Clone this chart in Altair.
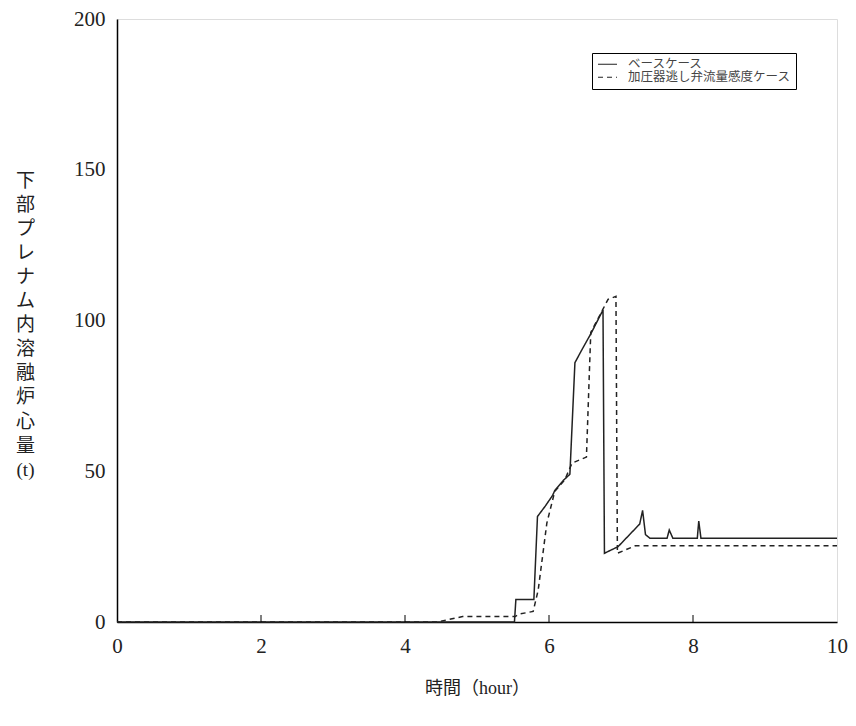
import altair as alt
import pandas as pd

cases = ["ベースケース", "加圧器逃し弁流量感度ケース"]

t_base = [0, 5.52, 5.54, 5.79, 5.84, 5.95, 6.05, 6.08, 6.20, 6.29, 6.36, 6.45, 6.59, 6.75, 6.77,
          6.96, 7.26, 7.30, 7.34, 7.40, 7.64, 7.67, 7.72, 8.06, 8.08, 8.11, 10]
v_base = [0, 0, 7.5, 7.5, 35, 38.5, 42, 43.6, 47, 49, 86, 90, 96, 103.5, 22.8,
          25, 32.5, 37, 29, 27.8, 27.8, 30.5, 27.8, 27.8, 33.5, 27.8, 27.8]

t_sens = [0, 4.45, 4.6, 4.8, 5.53, 5.58, 5.78, 5.85, 5.97, 6.08, 6.22, 6.32, 6.52, 6.58,
          6.82, 6.93, 6.95, 7.2, 10]
v_sens = [0, 0, 0.8, 1.8, 1.8, 2.6, 3.5, 10.6, 32.8, 43.3, 47.2, 52.7, 54.7, 96,
          107, 108, 22.8, 25.3, 25.3]

x_ticks = [0, 2, 4, 6, 8, 10]
y_ticks = [0, 50, 100, 150, 200]
inner_ticks = [2, 4, 6, 8]

rows = []
for i, (t, v) in enumerate(zip(t_base, v_base)):
    rows.append({"t": t, "v": v, "case": cases[0], "i": i})
for i, (t, v) in enumerate(zip(t_sens, v_sens)):
    rows.append({"t": t, "v": v, "case": cases[1], "i": i})
df = pd.DataFrame(rows)

serif = "Liberation Serif, Noto Sans CJK JP"

x_enc = alt.X("t:Q", scale=alt.Scale(domain=[0, 10], nice=False),
              axis=alt.Axis(values=x_ticks, format="d", ticks=False, grid=False, labelPadding=13,
                            labelFontSize=21, labelFont=serif, labelColor="#222",
                            title="時間（hour）", titleFont=serif, titleFontSize=18,
                            titleFontWeight="normal", titleColor="#222", titlePadding=23,
                            domainColor="black", domainWidth=1.5, labelFlush=False))
y_enc = alt.Y("v:Q", scale=alt.Scale(domain=[0, 200], nice=False),
              axis=alt.Axis(values=y_ticks, ticks=False, grid=False, labelPadding=12,
                            labelFontSize=21, labelFont=serif, labelColor="#222",
                            title=["下", "部", "プ", "レ", "ナ", "ム", "内", "溶", "融", "炉", "心", "量", "\u3000", "(t)"],
                            titleFont=serif, titleFontSize=19, titleFontWeight="normal",
                            titleColor="#222", titleAngle=0, titleAlign="center",
                            titleBaseline="top", titleX=-92, titleY=152, titleLineHeight=24.1,
                            domainColor="black", domainWidth=1.5, labelFlush=False))

lines = alt.Chart(df).mark_line(color="#222", strokeWidth=1.5).encode(
    x=x_enc,
    y=y_enc,
    strokeDash=alt.StrokeDash(
        "case:N",
        scale=alt.Scale(domain=cases, range=[[1, 0], [5, 4]]),
        legend=alt.Legend(orient="none", legendX=475, legendY=34, title=None,
                          symbolType="stroke", symbolSize=361, symbolStrokeColor="#222",
                          symbolStrokeWidth=1.2, labelFontSize=12.5, labelLimit=400,
                          labelFont="Noto Sans CJK JP", labelColor="#444",
                          padding=5, rowPadding=0, labelOffset=10, clipHeight=12.5,
                          strokeColor="black", fillColor="white"),
    ),
    order=alt.Order("i:Q"),
)

ticks = alt.Chart(pd.DataFrame({"t": inner_ticks})).mark_rule(color="black", strokeWidth=1).encode(
    x=alt.X("t:Q"),
    y=alt.value(603),
    y2=alt.value(596),
)

chart = alt.layer(lines, ticks).properties(
    width=720, height=603,
    autosize=alt.AutoSizeParams(type="none"),
    padding={"left": 109, "top": 11, "right": 11, "bottom": 90},
).configure_view(
    stroke="black", strokeWidth=1.5
).configure_legend(
    strokeWidth=2.5
).configure(background="white")

chart.save("out.html", embed_options={"renderer": "svg", "actions": False})
